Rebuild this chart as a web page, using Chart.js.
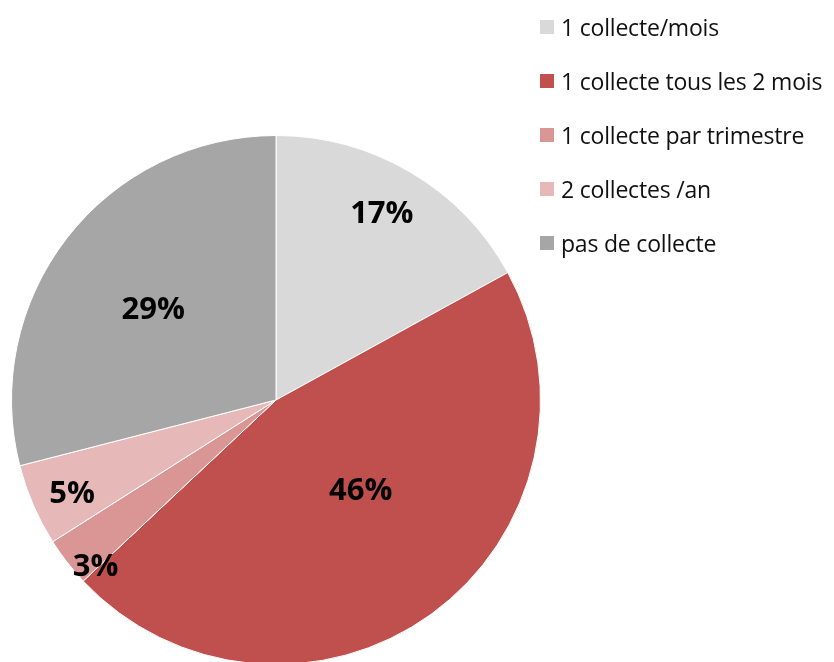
<!DOCTYPE html>
<html>
<head>
<meta charset="utf-8">
<script src="https://cdn.jsdelivr.net/npm/chart.js@4.4.1/dist/chart.umd.min.js"></script>
<style>
  html, body { margin: 0; padding: 0; background: #fff; overflow: hidden; }
  body { width: 834px; height: 662px; position: relative; }
  #pieWrap { position: absolute; left: 0; top: 124px; width: 552px; height: 552px; }
  #legend { position: absolute; left: 540px; top: 13px; font-family: "Open Sans", sans-serif; font-size: 23px; letter-spacing: -0.2px; color: #111; }
  .item { display: flex; align-items: center; height: 28px; margin-bottom: 26px; white-space: nowrap; }
  .box { width: 14px; height: 14px; margin-right: 7px; flex: none; }
</style>
</head>
<body>
<div id="pieWrap"><canvas id="pieChart" width="552" height="552"></canvas></div>
<div id="legend"></div>
<script>
const categories = ['1 collecte/mois', '1 collecte tous les 2 mois', '1 collecte par trimestre', '2 collectes /an', 'pas de collecte'];
const shares = [17, 46, 3, 5, 29];
const sliceColors = ['#d9d9d9', '#c0504d', '#d99694', '#e6b9b8', '#a6a6a6'];
// label placement: distance from centre (fraction of radius) and a small turn off the slice middle (degrees)
const labelDistance = [0.81, 0.47, 0.93, 0.85, 0.575];
const labelTurn = [-1, -7, -5, -1.5, -1.6];

const ctx = document.getElementById('pieChart').getContext('2d');

const sliceLabels = {
  id: 'sliceLabels',
  afterDatasetsDraw(chart) {
    const c = chart.ctx;
    const meta = chart.getDatasetMeta(0);
    c.save();
    c.font = 'bold 31px "Open Sans", sans-serif';
    c.fillStyle = '#000';
    c.textAlign = 'center';
    c.textBaseline = 'middle';
    meta.data.forEach((arc, i) => {
      const mid = (arc.startAngle + arc.endAngle) / 2 + labelTurn[i] * Math.PI / 180;
      const r = arc.outerRadius * labelDistance[i];
      c.fillText(shares[i] + '%', arc.x + Math.cos(mid) * r, arc.y + Math.sin(mid) * r);
    });
    c.restore();
  }
};

new Chart(ctx, {
  type: 'pie',
  data: {
    labels: categories,
    datasets: [{
      data: shares,
      backgroundColor: sliceColors,
      borderColor: '#ffffff',
      borderWidth: 1
    }]
  },
  options: {
    responsive: false,
    animation: false,
    layout: { padding: 11 },
    plugins: {
      legend: { display: false },
      tooltip: { enabled: false }
    }
  },
  plugins: [sliceLabels]
});

const legendEl = document.getElementById('legend');
categories.forEach((name, i) => {
  const row = document.createElement('div');
  row.className = 'item';
  row.innerHTML = `<span class="box" style="background:${sliceColors[i]}"></span><span>${name}</span>`;
  legendEl.appendChild(row);
});
</script>
</body>
</html>
